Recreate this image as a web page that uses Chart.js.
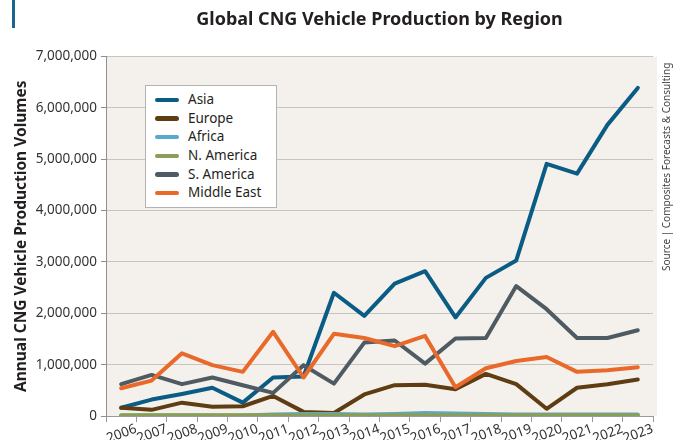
<!DOCTYPE html>
<html>
<head>
<meta charset="utf-8">
<script src="https://cdn.jsdelivr.net/npm/chart.js@4.4.1/dist/chart.umd.min.js"></script>
<style>
  html, body { margin: 0; padding: 0; background: #fff; }
  #wrap { position: relative; width: 679px; height: 440px; overflow: hidden; }
  #accent { position: absolute; left: 12px; top: 0; width: 3px; height: 28px; background: #1a6690; }
  #legend { position: absolute; left: 145px; top: 85px; width: 132px; height: 123px; box-sizing: border-box;
            border: 1.5px solid #b3b3b3; background: #fff; padding-top: 4px;
            font-family: "Noto Sans"; font-size: 13.5px; color: #231f20; }
  .row { position: relative; height: 18.7px; line-height: 18.7px; padding-left: 42px; white-space: nowrap; }
  .sw { position: absolute; left: 9px; top: 7.5px; width: 24px; height: 4.5px; border-radius: 2.5px; }
  #source { position: absolute; left: 659px; top: 271px; transform-origin: 0 0; transform: rotate(-90deg);
            font-family: "Noto Sans"; font-size: 10px; line-height: 14px; color: #444; white-space: nowrap; }
</style>
</head>
<body>
<div id="wrap">
  <canvas id="chart" width="679" height="440"></canvas>
  <div id="accent"></div>
  <div id="legend"></div>
  <div id="source">Source | Composites Forecasts &amp; Consulting</div>
</div>
<script>
// data
const years = ['2006', '2007', '2008', '2009', '2010', '2011', '2012', '2013', '2014',
               '2015', '2016', '2017', '2018', '2019', '2020', '2021', '2022', '2023'];
const asia       = [160000, 320000, 430000, 550000, 260000, 750000, 770000, 2400000, 1950000,
                    2580000, 2820000, 1920000, 2690000, 3030000, 4910000, 4720000, 5670000, 6390000];
const europe     = [160000, 120000, 260000, 180000, 190000, 390000, 80000, 60000, 420000,
                    600000, 610000, 520000, 820000, 620000, 140000, 550000, 620000, 710000];
const africa     = [10000, 10000, 10000, 10000, 10000, 30000, 40000, 40000, 30000,
                    40000, 60000, 50000, 40000, 30000, 30000, 30000, 30000, 30000];
const nAmerica   = [15000, 15000, 15000, 15000, 15000, 15000, 15000, 15000, 15000,
                    15000, 15000, 15000, 15000, 15000, 15000, 15000, 15000, 15000];
const sAmerica   = [620000, 800000, 620000, 750000, 600000, 450000, 990000, 630000, 1430000,
                    1470000, 1020000, 1510000, 1520000, 2530000, 2080000, 1520000, 1520000, 1670000];
const middleEast = [540000, 690000, 1220000, 990000, 860000, 1640000, 750000, 1600000, 1520000,
                    1360000, 1560000, 560000, 930000, 1070000, 1150000, 860000, 890000, 950000];

const seriesNames  = ['Asia', 'Europe', 'Africa', 'N. America', 'S. America', 'Middle East'];
const seriesData   = [asia, europe, africa, nAmerica, sAmerica, middleEast];
const seriesColors = ['#0b5c85', '#5f3d12', '#5aa9cc', '#8a9e55', '#4f5b63', '#e8692a'];

const fontName = 'Noto Sans';

function fmt(v) {
    return String(v).replace(/\B(?=(\d{3})+(?!\d))/g, ',');
}

// light background behind the plot
const plotBackground = {
    id: 'plotBackground',
    beforeDraw(chart) {
        const { ctx, chartArea: a } = chart;
        ctx.save();
        ctx.fillStyle = '#f4f1ec';
        ctx.fillRect(a.left, a.top, a.right - a.left + 4, a.bottom - a.top);
        ctx.restore();
    }
};

const datasets = seriesNames.map((name, i) => ({
    label: name,
    data: seriesData[i],
    borderColor: seriesColors[i],
    backgroundColor: seriesColors[i],
    borderWidth: 4,
    pointRadius: 0,
    fill: false,
    tension: 0,
    borderCapStyle: 'round',
    borderJoinStyle: 'round',
    order: seriesNames.length - 1 - i   // later series drawn on top
}));

new Chart(document.getElementById('chart'), {
    type: 'line',
    data: { labels: years, datasets: datasets },
    plugins: [plotBackground],
    options: {
        responsive: false,
        animation: false,
        devicePixelRatio: 1,
        events: [],
        layout: { padding: { left: 0, right: 26, top: 0, bottom: 0 } },
        plugins: {
            legend: { display: false },
            tooltip: { enabled: false },
            title: {
                display: true,
                text: 'Global CNG Vehicle Production by Region',
                fullSize: false,
                color: '#231f20',
                font: { family: fontName, size: 18, weight: 'bold' },
                padding: { top: 9, bottom: 26 }
            }
        },
        scales: {
            x: {
                type: 'category',
                offset: true,
                grid: { display: true, drawOnChartArea: false, drawTicks: true, tickLength: 6, color: '#9a9a9a', offset: true },
                border: { color: '#9a9a9a' },
                ticks: {
                    autoSkip: false, minRotation: 20, maxRotation: 20, labelOffset: 15, padding: -1,
                    color: '#333', font: { family: fontName, size: 13.5 }
                },
                afterFit(s) { s.height = 24; }
            },
            y: {
                min: 0,
                max: 7000000,
                ticks: {
                    stepSize: 1000000, padding: 4, color: '#333',
                    font: { family: fontName, size: 13.5 },
                    callback: v => fmt(v)
                },
                grid: { color: '#c8c5c1', tickLength: 5, tickColor: '#8f8f8f' },
                border: { color: '#8f8f8f' },
                title: {
                    display: true,
                    text: 'Annual CNG Vehicle Production Volumes',
                    color: '#231f20',
                    font: { family: fontName, size: 15.5, weight: 'bold' },
                    padding: { top: 12, bottom: 0 }
                },
                afterFit(s) { s.width = 106; }
            }
        }
    }
});

// legend box inside the plot
const legend = document.getElementById('legend');
seriesNames.forEach((name, i) => {
    const row = document.createElement('div');
    row.className = 'row';
    const sw = document.createElement('span');
    sw.className = 'sw';
    sw.style.background = seriesColors[i];
    row.appendChild(sw);
    row.appendChild(document.createTextNode(name));
    legend.appendChild(row);
});
</script>
</body>
</html>
